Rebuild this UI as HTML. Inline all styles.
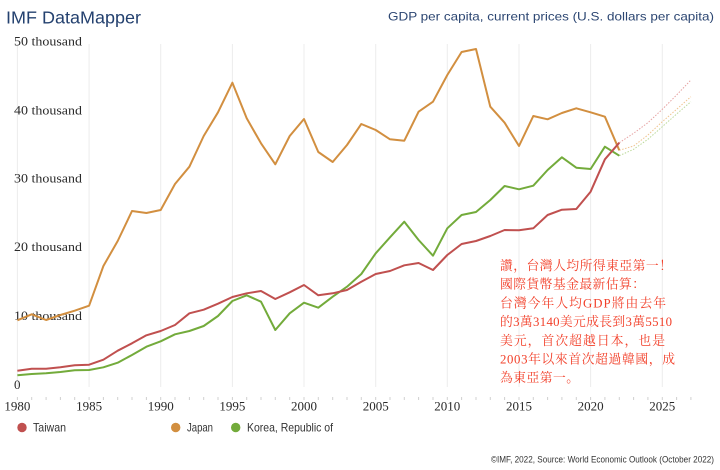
<!DOCTYPE html>
<html><head><meta charset="utf-8"><style>
html,body{margin:0;padding:0;background:#fff;}
svg{display:block;}
</style></head><body>
<svg width="720" height="470" viewBox="0 0 720 470" xmlns="http://www.w3.org/2000/svg">
<rect width="720" height="470" fill="#fff"/>
<!-- titles -->
<text x="6" y="23.3" font-family="Liberation Sans, DejaVu Sans, sans-serif" font-size="17.5" fill="#24416f" textLength="135" lengthAdjust="spacingAndGlyphs">IMF DataMapper</text>
<text x="388" y="20.7" font-family="Liberation Sans, DejaVu Sans, sans-serif" font-size="12" fill="#2c4672" textLength="326" lengthAdjust="spacingAndGlyphs">GDP per capita, current prices (U.S. dollars per capita)</text>
<!-- gridlines -->
<g stroke="#ececec" stroke-width="1">
<line x1="17.4" y1="44" x2="17.4" y2="387"/>
<line x1="89.1" y1="44" x2="89.1" y2="387"/>
<line x1="160.7" y1="44" x2="160.7" y2="387"/>
<line x1="232.4" y1="44" x2="232.4" y2="387"/>
<line x1="304" y1="44" x2="304" y2="387"/>
<line x1="375.7" y1="44" x2="375.7" y2="387"/>
<line x1="447.3" y1="44" x2="447.3" y2="387"/>
<line x1="519" y1="44" x2="519" y2="387"/>
<line x1="590.6" y1="44" x2="590.6" y2="387"/>
<line x1="662.3" y1="44" x2="662.3" y2="387"/>
</g>
<!-- year ticks -->
<g stroke="#d0d0d0" stroke-width="1">
<path d="M17.4 397v3M31.7 397v3M46.1 397v3M60.4 397v3M74.7 397v3M89.1 397v3M103.4 397v3M117.7 397v3M132 397v3M146.4 397v3M160.7 397v3M175 397v3M189.4 397v3M203.7 397v3M218 397v3M232.4 397v3M246.7 397v3M261 397v3M275.3 397v3M289.7 397v3M304 397v3M318.3 397v3M332.7 397v3M347 397v3M361.3 397v3M375.7 397v3M390 397v3M404.3 397v3M418.6 397v3M433 397v3M447.3 397v3M461.6 397v3M476 397v3M490.3 397v3M504.6 397v3M519 397v3M533.3 397v3M547.6 397v3M561.9 397v3M576.3 397v3M590.6 397v3M604.9 397v3M619.3 397v3M633.6 397v3M647.9 397v3M662.3 397v3M676.6 397v3M690.9 397v3"/>
</g>
<!-- y labels -->
<g font-family="Liberation Serif, DejaVu Serif, serif" font-size="13" fill="#2a2a2a">
<text x="14" y="45.3" textLength="68" lengthAdjust="spacingAndGlyphs">50 thousand</text>
<text x="14" y="114.3" textLength="68" lengthAdjust="spacingAndGlyphs">40 thousand</text>
<text x="14" y="182.3" textLength="68" lengthAdjust="spacingAndGlyphs">30 thousand</text>
<text x="14" y="250.8" textLength="68" lengthAdjust="spacingAndGlyphs">20 thousand</text>
<text x="14" y="320" textLength="68" lengthAdjust="spacingAndGlyphs">10 thousand</text>
<text x="14" y="389">0</text>
</g>
<!-- x labels -->
<g font-family="Liberation Serif, DejaVu Serif, serif" font-size="13" fill="#2a2a2a" text-anchor="middle">
<text x="17.4" y="410.7">1980</text>
<text x="89.1" y="410.7">1985</text>
<text x="160.7" y="410.7">1990</text>
<text x="232.4" y="410.7">1995</text>
<text x="304" y="410.7">2000</text>
<text x="375.7" y="410.7">2005</text>
<text x="447.3" y="410.7">2010</text>
<text x="519" y="410.7">2015</text>
<text x="590.6" y="410.7">2020</text>
<text x="662.3" y="410.7">2025</text>
</g>
<!-- projections -->
<g fill="none" stroke-width="1" stroke-dasharray="1.5 1.5">
<polyline stroke="#bcd99a" points="619.3,155.7 633.6,149.3 647.9,139.3 662.3,126.7 676.6,114 690.9,101.7"/>
<polyline stroke="#efc48f" points="619.3,150.3 633.6,146 647.9,135 662.3,121.7 676.6,109.3 690.9,96.7"/>
<polyline stroke="#e6a3a3" points="619.3,142.7 633.6,133.3 647.9,122.7 662.3,109.3 676.6,95 690.9,80"/>
</g>
<!-- series -->
<g fill="none" stroke-width="2" stroke-linejoin="round">
<polyline stroke="#d28f40" points="17.4,320.3 31.7,314.3 46.1,320 60.4,315 74.7,310.7 89.1,305.7 103.4,266 117.7,241 132,211 146.4,213 160.7,210 175,184 189.4,166.7 203.7,136 218,112.3 232.4,82.7 246.7,118.3 261,143.3 275.3,164.3 289.7,136 304,119 318.3,152 332.7,162 347,145 361.3,124 375.7,130 390,139.3 404.3,140.7 418.6,111.7 433,101.7 447.3,75 461.6,52 476,49 490.3,106.7 504.6,122.7 519,146 533.3,116 547.6,119.3 561.9,113 576.3,108.3 590.6,112.3 604.9,116.7 619.3,150.3"/>
<polyline stroke="#73ab3b" points="17.4,375.3 31.7,374 46.1,373.3 60.4,372 74.7,370.3 89.1,370 103.4,367.3 117.7,362.7 132,355 146.4,346.7 160.7,341.3 175,334.3 189.4,331 203.7,326 218,316 232.4,301 246.7,295.3 261,301.7 275.3,330 289.7,313.3 304,302.7 318.3,307.7 332.7,296.7 347,286.7 361.3,274 375.7,253.3 390,237.3 404.3,221.7 418.6,240 433,255.7 447.3,228.3 461.6,215 476,212 490.3,200 504.6,186 519,189.3 533.3,185.7 547.6,170 561.9,157.3 576.3,167.7 590.6,169 604.9,146.7 619.3,155.7"/>
<polyline stroke="#c0504f" points="17.4,370.7 31.7,368.7 46.1,368.7 60.4,367.3 74.7,365.3 89.1,364.7 103.4,359.7 117.7,350.7 132,343.3 146.4,335.3 160.7,331 175,325 189.4,313.3 203.7,309.7 218,303.7 232.4,297 246.7,293.3 261,291 275.3,299 289.7,292.3 304,285 318.3,295.3 332.7,293.3 347,290 361.3,281.7 375.7,274 390,271 404.3,265.3 418.6,263 433,270 447.3,255 461.6,244 476,241 490.3,236 504.6,230 519,230.3 533.3,228.3 547.6,215 561.9,209.7 576.3,209 590.6,191.7 604.9,159.3 619.3,142.7"/>
</g>
<!-- annotation -->
<g font-family="Liberation Serif, Noto Serif CJK SC, Noto Sans CJK TC, serif" font-size="12.8" fill="#f2402a">
<text x="500" y="270" textLength="172">讚，台灣人均所得東亞第一！</text>
<text x="500" y="288.5" textLength="145">國際貨幣基金最新估算：</text>
<text x="500" y="307.5" textLength="166">台灣今年人均GDP將由去年</text>
<text x="500" y="326" textLength="172">的3萬3140美元成長到3萬5510</text>
<text x="500" y="345" textLength="165">美元，首次超越日本，也是</text>
<text x="500" y="363.5" textLength="175">2003年以來首次超過韓國，成</text>
<text x="500" y="382" textLength="79">為東亞第一。</text>
</g>
<!-- legend -->
<circle cx="22" cy="427.5" r="4.7" fill="#c0504f"/>
<circle cx="175.7" cy="427.5" r="4.7" fill="#d28f40"/>
<circle cx="235.7" cy="427.5" r="4.7" fill="#73ab3b"/>
<g font-family="Liberation Sans, DejaVu Sans, sans-serif" font-size="11.7" fill="#333">
<text x="33" y="431.7" textLength="33" lengthAdjust="spacingAndGlyphs">Taiwan</text>
<text x="187" y="431.7" textLength="26" lengthAdjust="spacingAndGlyphs">Japan</text>
<text x="247" y="431.7" textLength="86" lengthAdjust="spacingAndGlyphs">Korea, Republic of</text>
</g>
<text x="491" y="462.3" font-family="Liberation Sans, DejaVu Sans, sans-serif" font-size="9" fill="#333" textLength="223" lengthAdjust="spacingAndGlyphs">©IMF, 2022, Source: World Economic Outlook (October 2022)</text>
</svg>
</body></html>
